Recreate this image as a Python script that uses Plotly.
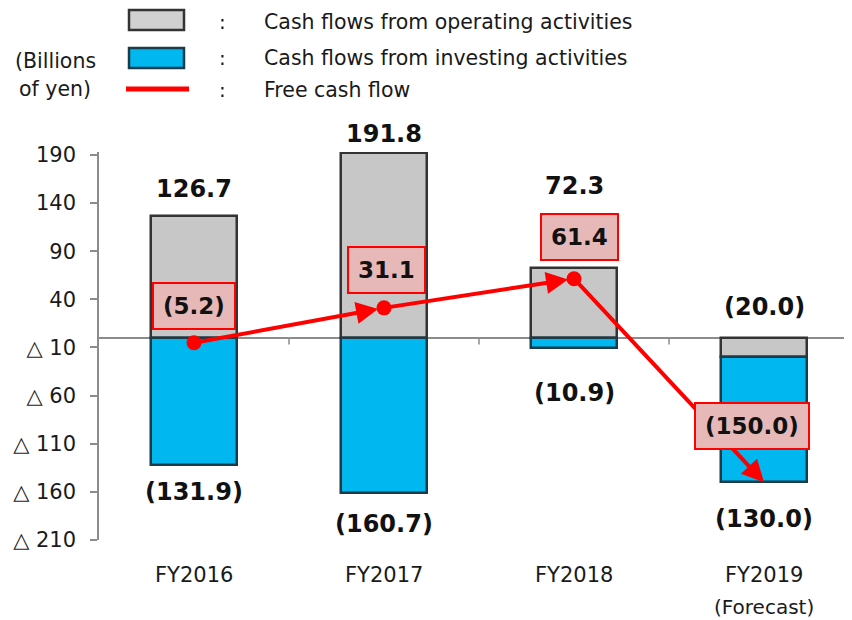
import plotly.graph_objects as go

# ---------------- data ----------------
categories = ["FY2016", "FY2017", "FY2018", "FY2019"]
operating = [126.7, 191.8, 72.3, -20.0]
investing = [-131.9, -160.7, -10.9, -130.0]
free_cf = [-5.2, 31.1, 61.4, -150.0]
op_labels = ["126.7", "191.8", "72.3", "(20.0)"]
inv_labels = ["(131.9)", "(160.7)", "(10.9)", "(130.0)"]
fcf_labels = ["(5.2)", "31.1", "61.4", "(150.0)"]
tick_vals = [190, 140, 90, 40, -10, -60, -110, -160, -210]
tick_text = ["190", "140", "90", "40", "△ 10", "△ 60", "△ 110", "△ 160", "△ 210"]

# ---------------- layout geometry ----------------
# page body has an 8px margin, so the figure is drawn 8px in from the corner
OFF = 8
W, H = 852 - OFF, 620 - OFF
ML, MR, MT, MB = 91, 0, 144, 80
PW, PH = W - ML - MR, H - MT - MB


def px(x):
    return (x - OFF - ML) / PW


def py(y):
    return (H - MB - (y - OFF)) / PH


FONT = "DejaVu Sans"
GREY = "#c7c7c7"
BLUE = "#00b7f0"
RED = "#ff0000"
TXT = "#1a1a1a"

fig = go.Figure()
fig.add_bar(x=list(range(4)), y=operating, width=0.45, name="Operating",
            marker=dict(color=GREY, line=dict(color="#333333", width=2.5)))
fig.add_bar(x=list(range(4)), y=investing, width=0.45, name="Investing",
            marker=dict(color=BLUE, line=dict(color="#1d3a48", width=2.5)))
fig.add_scatter(x=list(range(3)), y=free_cf[:3], mode="markers",
                marker=dict(color=RED, size=15), name="FCF")

ann = []
# free cash flow arrows
for i in range(3):
    ann.append(dict(x=i + 1, y=free_cf[i + 1], ax=i, ay=free_cf[i],
                    xref="x", yref="y", axref="x", ayref="y", text="",
                    showarrow=True, arrowhead=2, arrowsize=1.1, arrowwidth=4,
                    arrowcolor=RED, standoff=6 if i < 2 else 0))

# operating / investing labels (pixel offsets)
op_shift = [27, 19, 82, 31]
inv_shift = [27, 31, 45, 37]
for i in range(4):
    top = max(operating[i], 0)
    ann.append(dict(x=i, y=top, xref="x", yref="y", text="<b>%s</b>" % op_labels[i],
                    showarrow=False, yshift=op_shift[i], yanchor="middle", xanchor="center",
                    font=dict(family=FONT, size=24, color="#111111")))
    bottom = min(operating[i], 0) + investing[i]
    ann.append(dict(x=i, y=bottom, xref="x", yref="y", text="<b>%s</b>" % inv_labels[i],
                    showarrow=False, yshift=-inv_shift[i], yanchor="middle", xanchor="center",
                    font=dict(family=FONT, size=24, color="#111111")))

# FCF boxes
fcf_dy = [37, 38, 42, 56]
fcf_dx = [0, 2, 5, -12]
for i in range(4):
    ann.append(dict(x=i, y=free_cf[i], xref="x", yref="y", text="<b>%s</b>" % fcf_labels[i],
                    showarrow=False, yshift=fcf_dy[i], xshift=fcf_dx[i], yanchor="middle",
                    xanchor="center",
                    bgcolor="#e6b9b8", bordercolor=RED, borderwidth=2, borderpad=9,
                    font=dict(family=FONT, size=23, color="#111111")))

# category labels
for i, c in enumerate(categories):
    ann.append(dict(x=i, y=py(575), xref="x", yref="paper", text=c, showarrow=False,
                    yanchor="middle", xanchor="center",
                    font=dict(family=FONT, size=21, color=TXT)))
ann.append(dict(x=3, y=py(607), xref="x", yref="paper", text="(Forecast)", showarrow=False,
                yanchor="middle", xanchor="center", font=dict(family=FONT, size=20, color=TXT)))

# legend texts
leg_texts = ["Cash flows from operating activities", "Cash flows from investing activities",
             "Free cash flow"]
leg_y = [22, 58, 90]
for t, y in zip(leg_texts, leg_y):
    ann.append(dict(x=px(262), y=py(y), xref="paper", yref="paper", text=t, showarrow=False,
                    xanchor="left", yanchor="middle",
                    font=dict(family=FONT, size=20.5, color=TXT)))
    ann.append(dict(x=px(222), y=py(y), xref="paper", yref="paper", text=":", showarrow=False,
                    xanchor="center", yanchor="middle",
                    font=dict(family=FONT, size=20, color=TXT)))
ann.append(dict(x=px(55), y=py(61), xref="paper", yref="paper", text="(Billions",
                showarrow=False, xanchor="center", yanchor="middle",
                font=dict(family=FONT, size=20.5, color=TXT)))
ann.append(dict(x=px(55), y=py(89), xref="paper", yref="paper", text="of yen)",
                showarrow=False, xanchor="center", yanchor="middle",
                font=dict(family=FONT, size=20.5, color=TXT)))

shapes = [
    dict(type="rect", xref="paper", yref="paper", x0=px(129), x1=px(184), y0=py(30), y1=py(10),
         fillcolor="#d0d0d0", line=dict(color="#333333", width=2.5)),
    dict(type="rect", xref="paper", yref="paper", x0=px(129), x1=px(184), y0=py(68), y1=py(48),
         fillcolor=BLUE, line=dict(color="#1d3a48", width=2.5)),
    dict(type="line", xref="paper", yref="paper", x0=px(126), x1=px(189), y0=py(89), y1=py(89),
         line=dict(color=RED, width=5)),
]
# category boundary ticks on the zero line
for b in [0.5, 1.5, 2.5]:
    shapes.append(dict(type="line", xref="x", yref="y", x0=b, x1=b, y0=0, y1=-7,
                       line=dict(color="#8c8c8c", width=1.5), layer="below"))

fig.update_layout(
    width=W, height=H, margin=dict(l=ML, r=MR, t=MT, b=MB),
    paper_bgcolor="white", plot_bgcolor="white",
    barmode="relative", showlegend=False, bargap=0,
    annotations=ann, shapes=shapes,
    xaxis=dict(range=[-0.5, 3.463], showgrid=False, zeroline=False, showline=False,
               showticklabels=False, ticks="", fixedrange=True),
    yaxis=dict(range=[-210, 193], tickvals=tick_vals, ticktext=tick_text,
               showgrid=False, zeroline=True, zerolinecolor="#8c8c8c", zerolinewidth=1.5,
               showline=True, linecolor="#8c8c8c", linewidth=1.5,
               ticks="outside", ticklen=7, tickcolor="#8c8c8c", tickwidth=1.5,
               ticklabelstandoff=10,
               tickfont=dict(family=FONT, size=21, color=TXT)),
)

fig.write_html("out.html")
